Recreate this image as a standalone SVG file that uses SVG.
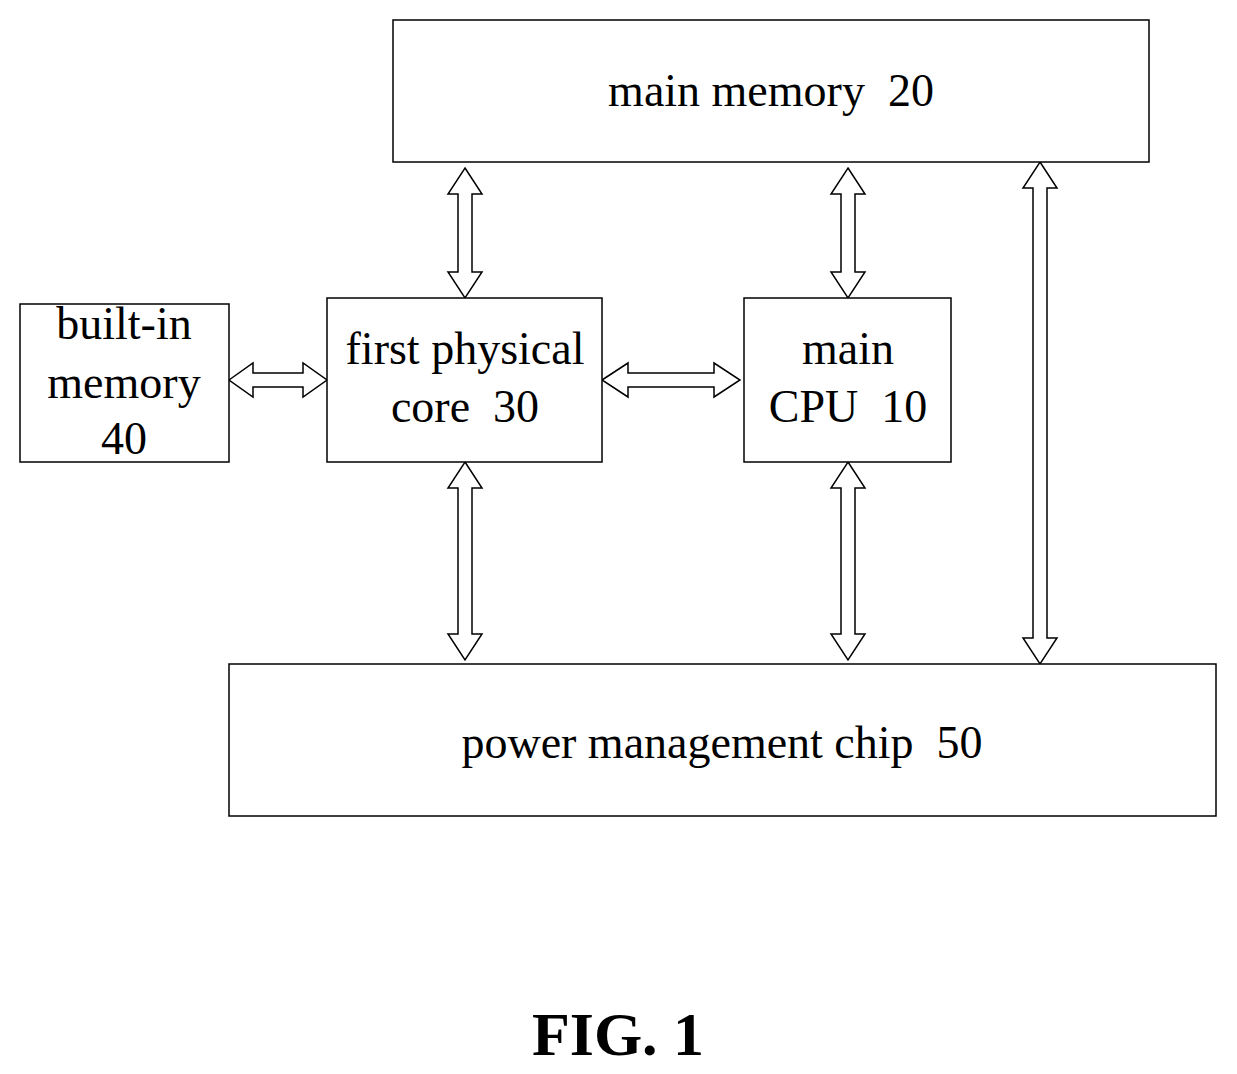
<svg xmlns="http://www.w3.org/2000/svg" width="1237" height="1074" viewBox="0 0 1237 1074">
<style>
.b{fill:#fff;stroke:#000;stroke-width:1.5}
.a{fill:#fff;stroke:#000;stroke-width:1.5;stroke-linejoin:miter}
text{font-family:"Liberation Serif",serif;font-size:46px;text-anchor:middle;fill:#000;white-space:pre}
.f{font-size:62px;font-weight:bold}
</style>
<rect width="1237" height="1074" fill="#fff"/>
<g id="connectors">
<polygon class="a" points="465,168 482,194 472,194 472,272 482,272 465,298 448,272 458,272 458,194 448,194"/>
<polygon class="a" points="848,168 865,194 855,194 855,272 865,272 848,298 831,272 841,272 841,194 831,194"/>
<polygon class="a" points="465,462 482,488 472,488 472,634 482,634 465,660 448,634 458,634 458,488 448,488"/>
<polygon class="a" points="848,462 865,488 855,488 855,634 865,634 848,660 831,634 841,634 841,488 831,488"/>
<polygon class="a" points="1040,162 1057,188 1047,188 1047,638 1057,638 1040,664 1023,638 1033,638 1033,188 1023,188"/>
<polygon class="a" points="229,380 253,363 253,373 303,373 303,363 327,380 303,397 303,387 253,387 253,397"/>
<polygon class="a" points="602,380 628,363 628,373 714,373 714,363 740,380 714,397 714,387 628,387 628,397"/>
</g>
<g id="main-memory"><rect class="b" x="393" y="20" width="756" height="142"/><text x="771" y="106" xml:space="preserve">main memory  20</text></g>
<g id="built-in-memory"><rect class="b" x="20" y="304" width="209" height="158"/><text x="124" y="339">built-in</text><text x="124" y="398">memory</text><text x="124" y="454">40</text></g>
<g id="first-physical-core"><rect class="b" x="327" y="298" width="275" height="164"/><text x="465" y="364">first physical</text><text x="465" y="422" xml:space="preserve">core  30</text></g>
<g id="main-cpu"><rect class="b" x="744" y="298" width="207" height="164"/><text x="848" y="364">main</text><text x="848" y="422" xml:space="preserve">CPU  10</text></g>
<g id="power-management-chip"><rect class="b" x="229" y="664" width="987" height="152"/><text x="722" y="758" xml:space="preserve">power management chip  50</text></g>
<text class="f" x="618" y="1055">FIG. 1</text>
</svg>
